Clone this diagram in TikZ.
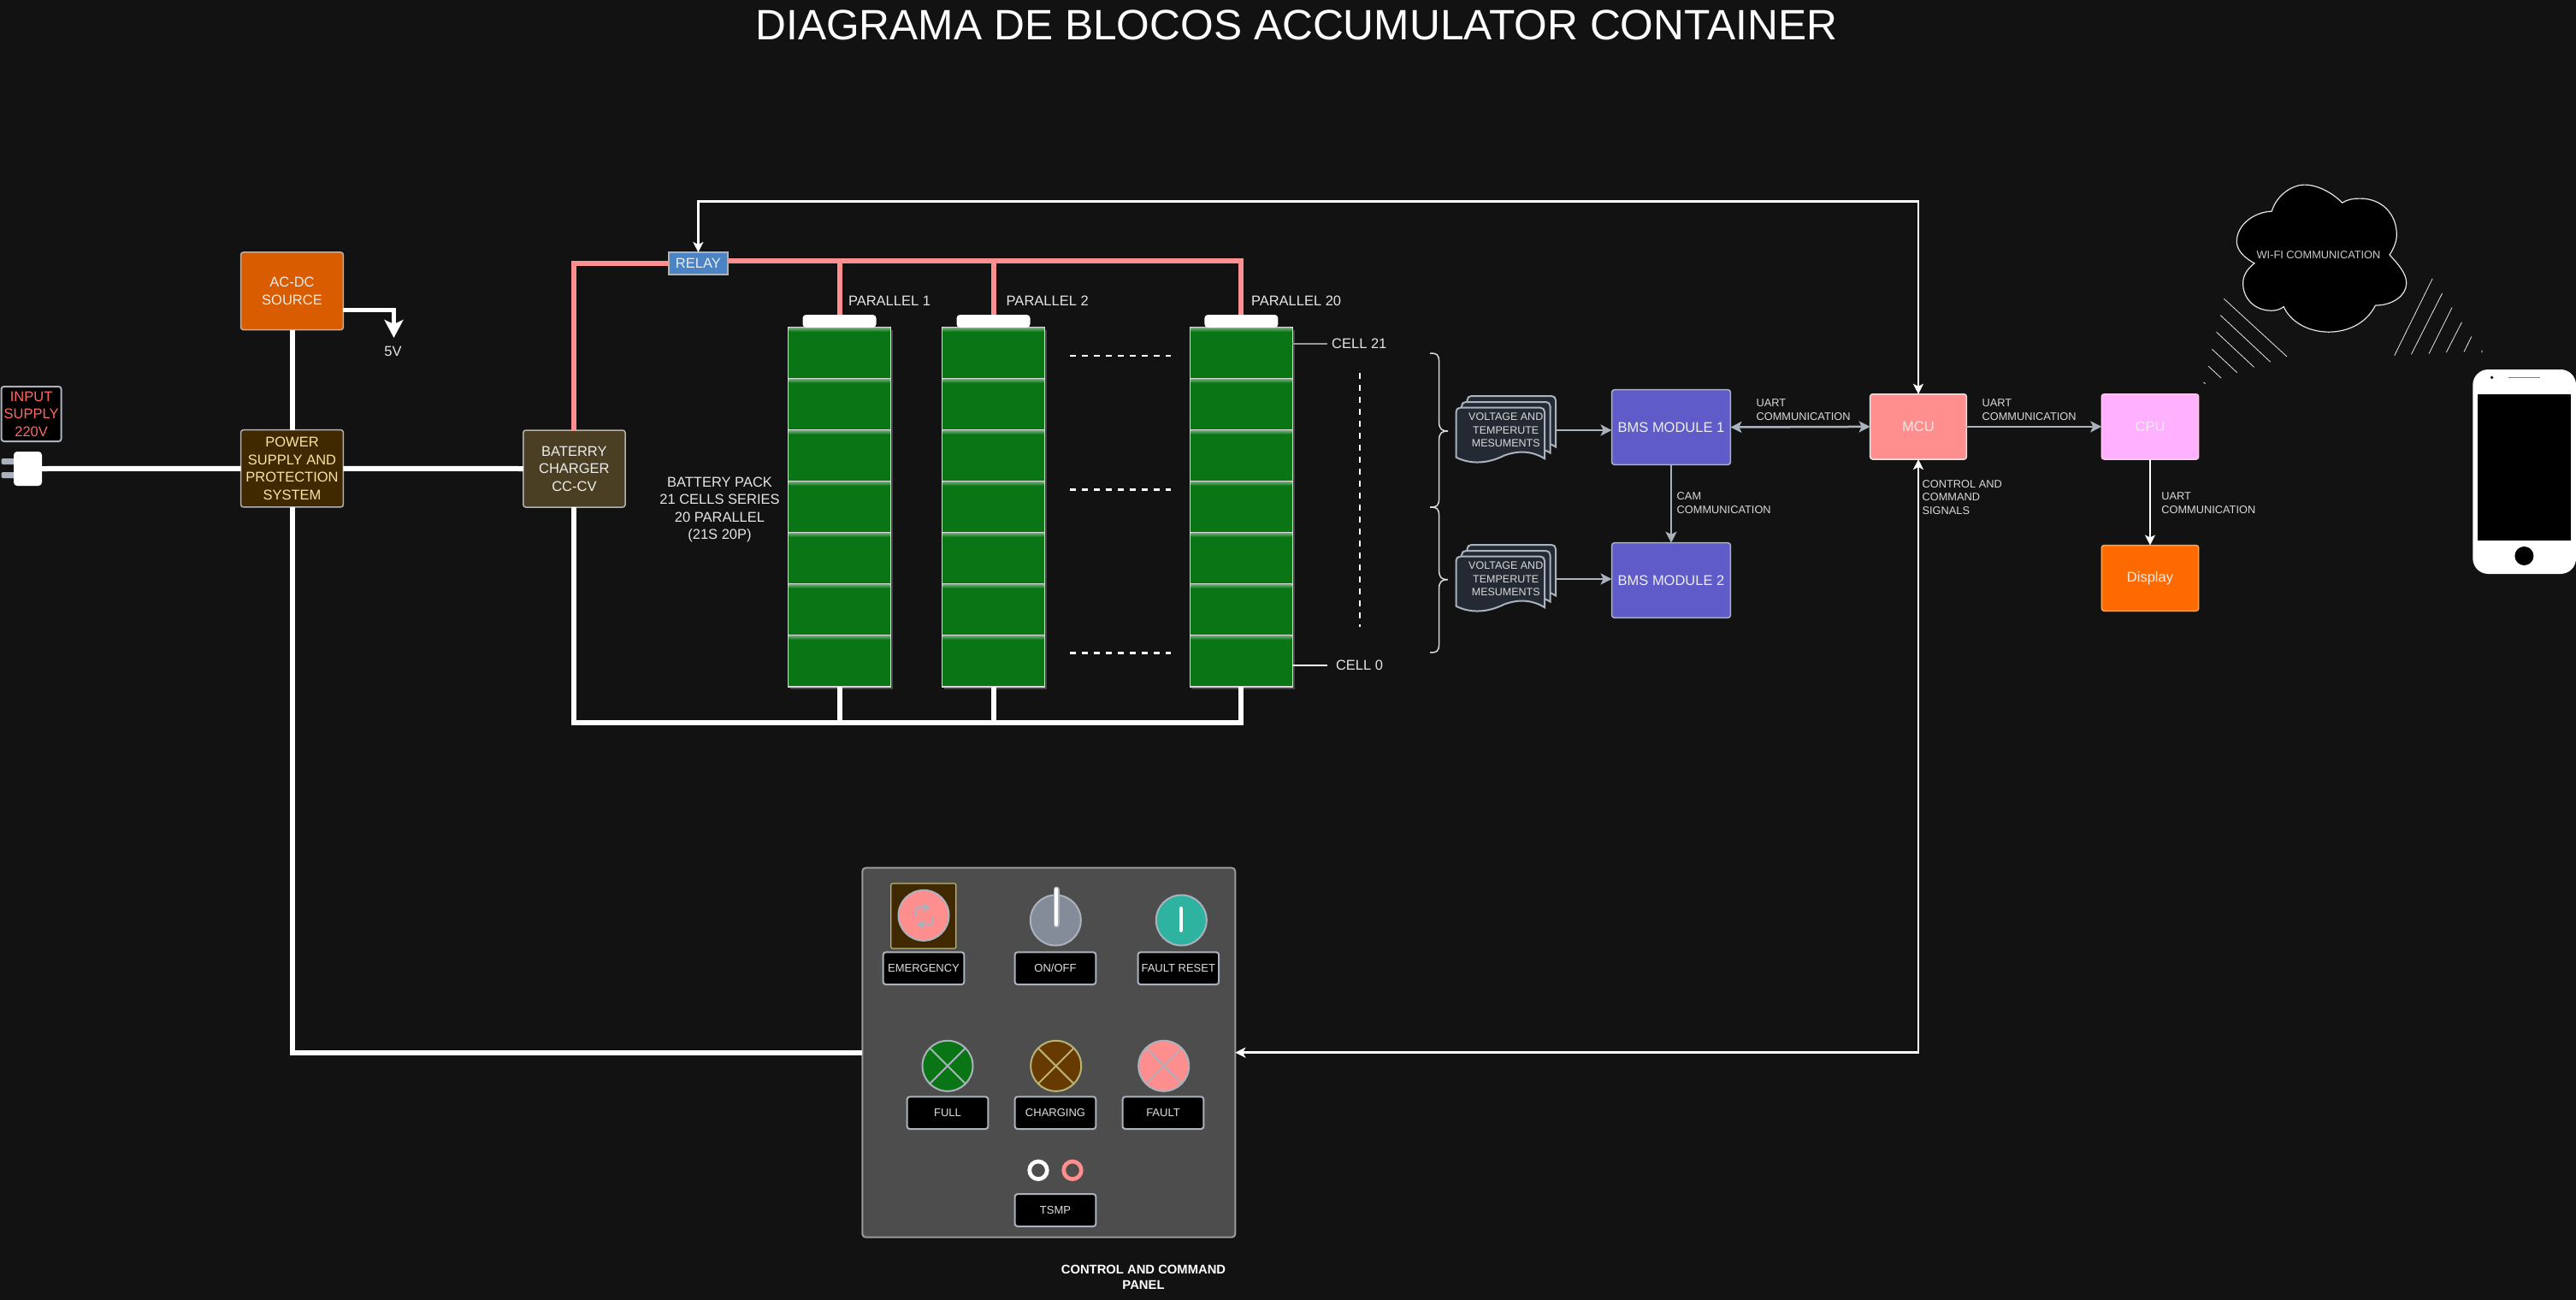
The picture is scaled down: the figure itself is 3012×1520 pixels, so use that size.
\documentclass[tikz,border=0pt]{standalone}
\usepackage{fontspec}
\setmainfont{Liberation Sans}
\usetikzlibrary{arrows.meta}

\definecolor{bgdark}{HTML}{121212}
\definecolor{pinkwire}{HTML}{FF8F8F}
\definecolor{cellgreen}{HTML}{0A7514}
\definecolor{steel}{HTML}{AAB2BD}
\definecolor{bmsblue}{HTML}{5F5BC9}
\definecolor{panelgray}{HTML}{4D4D4D}
\definecolor{acdcfill}{HTML}{D95C00}
\definecolor{psufill}{HTML}{402800}
\definecolor{psutext}{HTML}{F5E6A0}
\definecolor{chargerfill}{HTML}{4A3F22}
\definecolor{relayfill}{HTML}{4A84C4}
\definecolor{cpufill}{HTML}{FFB0FF}
\definecolor{dispfill}{HTML}{FF6A00}
\definecolor{sheetfill}{HTML}{232A33}
\definecolor{knobfill}{HTML}{858C99}
\definecolor{resetfill}{HTML}{2DB39F}
\definecolor{chgfill}{HTML}{663A00}
\definecolor{inputtext}{HTML}{FF6666}

\tikzset{
  box/.style={draw=#1,rounded corners=3pt,line width=1.5pt,inner sep=0pt,outer sep=0pt,
    align=center,text=white!93!black,font=\fontsize{16.5}{20.5}\selectfont},
  box/.default={gray!60},
  wire/.style={draw=white,line width=6pt},
  pinkline/.style={draw=pinkwire,line width=6pt},
  sigline/.style={draw=white,line width=2.5pt,{Stealth[length=12pt,width=12pt,inset=3pt]}-{Stealth[length=12pt,width=12pt,inset=3pt]}},
  sigend/.style={draw=white,line width=2.5pt,-{Stealth[length=12pt,width=12pt,inset=3pt]}},
  greyend/.style={draw=steel,line width=2.5pt,-{Stealth[length=13pt,width=13pt,inset=3pt]}},
  dots/.style={draw=white,line width=2.5pt,dash pattern=on 7pt off 7pt},
  lbl/.style={inner sep=0pt,outer sep=0pt,align=center,text=white!90!black,font=\fontsize{16.5}{20.5}\selectfont},
  small/.style={inner sep=0pt,outer sep=0pt,align=left,anchor=west,text=white!85!black,font=\fontsize{12.8}{16}\selectfont},
  cell/.style={draw=white!85!black,fill=cellgreen,line width=1.2pt,inner sep=0pt,outer sep=0pt,
    minimum width=119.5pt,minimum height=60pt},
  tag/.style={draw=steel,fill=black,line width=2pt,rounded corners=3pt,inner sep=0pt,outer sep=0pt,
    minimum width=94.6pt,minimum height=37.7pt,text=white!88!black,font=\fontsize{13}{16}\selectfont},
  lamp/.style={circle,draw=#1,line width=2pt,inner sep=0pt,outer sep=0pt,minimum size=59pt},
  lamp/.default={steel},
  sheet/.pic={
    \path[draw=steel,fill=sheetfill,line width=2pt]
      (0,5) .. controls (0,2) and (2,0) .. (5,0) -- (98.5,0)
      .. controls (101.5,0) and (103.5,2) .. (103.5,5) -- (103.5,59.5)
      .. controls (88,50) and (72,50) .. (56,56)
      .. controls (38,65) and (18,67) .. (0,58) -- cycle;
  }
}
\newcommand{\curlybr}[3]{%
  \draw[white!85!black,line width=1.5pt] (1672,#1) .. controls (1680,#1) and (1682.6,#1+1) .. (1682.6,#1+11)
    -- (1682.6,#2-11) .. controls (1682.6,#2-2) and (1686,#2) .. (1693,#2)
    .. controls (1686,#2) and (1682.6,#2+2) .. (1682.6,#2+11)
    -- (1682.6,#3-11) .. controls (1682.6,#3-1) and (1680,#3) .. (1672,#3);
}

\begin{document}
\begin{tikzpicture}[x=1pt,y=-1pt]
  \fill[bgdark] (0,0) rectangle (3012,1520);
  \useasboundingbox (0,0) rectangle (3012,1520);

  \node[lbl,font=\fontsize{49.7}{55}\selectfont,text=white] (title) at (1515.7,29)
    {DIAGRAMA DE BLOCOS ACCUMULATOR CONTAINER};

  \node[box,draw=steel,fill=black,text=inputtext,minimum width=70pt,minimum height=64pt,
    line width=2pt] (input) at (36.6,484) {INPUT\\SUPPLY\\220V};
  \fill[steel,rounded corners=2pt] (1.5,536) rectangle (20,543);
  \fill[steel,rounded corners=2pt] (1.5,552) rectangle (20,559);
  \node[fill=white,rounded corners=4pt,inner sep=0pt,outer sep=0pt,minimum width=33pt,
    minimum height=40pt] (plug) at (32.5,548) {};

  \node[box,fill=acdcfill,minimum width=119.8pt,minimum height=90.7pt] (acdc) at (341.5,340.3)
    {AC-DC\\SOURCE};
  \node[box,fill=psufill,text=psutext,minimum width=119.8pt,minimum height=90.3pt]
    (psu) at (341.5,547.8) {POWER\\SUPPLY AND\\PROTECTION\\SYSTEM};
  \node[box,fill=chargerfill,minimum width=119.3pt,minimum height=90pt] (charger) at (671.4,548)
    {BATERRY\\CHARGER\\CC-CV};
  \node[box=steel,fill=relayfill,rounded corners=0pt,minimum width=69pt,minimum height=26pt] (relay)
    at (816.4,308) {RELAY};

  \coordinate (acdcout) at (401.4,362.7);
  \coordinate (vfive) at (460.5,395);
  \node[lbl] (vlabel) at (459.5,411) {5V};
  \draw[wire] (plug.east) -- (psu.west);
  \draw[wire] (psu.east) -- (charger.west);
  \draw[wire] (acdc.south) -- (psu.north);
  \draw[wire,line width=5pt,-{Stealth[length=21pt,width=22pt,inset=5pt]}] (acdcout) -| (vfive);

  \foreach \col/\cx in {1/981.5,2/1161.5,3/1451.4} {
    \fill[gray!45!bgdark] (\cx-58,386) rectangle (\cx+62.5,806);
    \foreach \row in {1,...,7} {
      \node[cell] (cell\col-\row) at (\cx,382.9+60*\row-30) {};
      \shade[top color=white!35!cellgreen,bottom color=cellgreen] (\cx-59,382.9+60*\row-59) rectangle (\cx+59,382.9+60*\row-55);
    }
    \fill[white,rounded corners=4pt] (\cx-43,383) -- (\cx-43,368) -- (\cx+43,368) -- (\cx+43,383) -- cycle;
    \coordinate (cap\col) at (\cx,368);
  }
  \node[lbl,anchor=west] (par1) at (992,352) {PARALLEL 1};
  \node[lbl,anchor=west] (par2) at (1176.7,352) {PARALLEL 2};
  \node[lbl,anchor=west] (par3) at (1463,352) {PARALLEL 20};
  \node[lbl] (pack) at (841.5,596) {BATTERY PACK\\21 CELLS SERIES\\20 PARALLEL\\(21S 20P)};

  \coordinate (relayout) at (851,305);
  \coordinate (busend) at (1451.4,845);
  \draw[pinkline] (charger.north) |- (relay.west);
  \draw[pinkline] (relayout) -| (cap3);
  \draw[pinkline] (cap1 |- relayout) -- (cap1);
  \draw[pinkline] (cap2 |- relayout) -- (cap2);
  \draw[wire] (charger.south) |- (busend) -- (cell3-7.south);
  \draw[wire] (cell1-7.south) -- (cell1-7.south |- busend);
  \draw[wire] (cell2-7.south) -- (cell2-7.south |- busend);

  \foreach \ypos in {415.8,572.3,763.7} {
    \draw[dots] (1251.4,\ypos) -- (1369,\ypos);
  }
  \draw[dots] (1590,436) -- (1590,733);

  \node[lbl] (cell21) at (1589.3,401.7) {CELL 21};
  \node[lbl] (cell0) at (1589.5,778.3) {CELL 0};
  \draw[gray!80!white,line width=2pt,shorten >=5.6pt] (cell21.west -| cell3-1.east) -- (cell21.west);
  \draw[white,line width=2pt,shorten >=10pt] (cell0.west -| cell3-7.east) -- (cell0.west);

  \curlybr{413}{504}{593}
  \curlybr{593}{677.7}{763}

  \foreach \name/\ypos in {docsa/503,docsb/677} {
    \pic at (1715.5,\ypos-40) {sheet};
    \pic at (1709,\ypos-33) {sheet};
    \pic at (1702.5,\ypos-26.3) {sheet};
    \node[lbl,text=white!85!black,minimum width=116.5pt,minimum height=78pt,font=\fontsize{12.5}{15.5}\selectfont]
      (\name) at (1760.75,\ypos) {VOLTAGE AND\\TEMPERUTE\\MESUMENTS};
  }

  \node[box=steel,fill=bmsblue,minimum width=138.8pt,minimum height=87.6pt] (bmsa) at (1954,499.5) {BMS MODULE 1};
  \node[box=steel,fill=bmsblue,minimum width=138.8pt,minimum height=87.6pt] (bmsb) at (1954,678.5) {BMS MODULE 2};
  \node[box=white!90!black,fill=pinkwire,minimum width=112.7pt,minimum height=76.3pt] (mcu) at (2243,498.9) {MCU};
  \node[box=white!80!magenta,fill=cpufill,minimum width=113.4pt,minimum height=76.3pt] (cpu)
    at (2514,498.9) {CPU};
  \node[box=orange!70!white,fill=dispfill,minimum width=113.4pt,minimum height=76.8pt] (display)
    at (2514,675.9) {Display};

  \draw[greyend] (docsa.east) -- (docsa.east -| bmsa.west);
  \draw[greyend] (docsb.east) -- (docsb.east -| bmsb.west);
  \draw[greyend,{Stealth[length=13pt,width=13pt,inset=3pt]}-{Stealth[length=13pt,width=13pt,inset=3pt]}]
    (bmsa.east) -- (mcu.west);
  \draw[greyend] (bmsa.south) -- (bmsb.north);
  \draw[greyend] (mcu.east) -- (cpu.west);
  \draw[sigend] (cpu.south) -- (display.north);

  \node[small] (uarta) at (2053.6,479) {UART\\COMMUNICATION};
  \node[small] (uartb) at (2317.6,479) {UART\\COMMUNICATION};
  \node[small] (uartc) at (2527.3,588) {UART\\COMMUNICATION};
  \node[small] (cam) at (1960.7,588) {CAM\\COMMUNICATION};
  \node[small,font=\fontsize{12.8}{15.5}\selectfont] (ctrl) at (2247.6,581.5) {CONTROL AND\\COMMAND\\SIGNALS};

  \coordinate (relaytop) at (816.4,235.4);
  \draw[sigline] (relay.north) |- (relaytop) -| (mcu.north);

  \draw[fill=black,draw=white!90!black,line width=1.2pt] (2656.2,247.1)
    .. controls (2662,228) and (2680,216) .. (2694.6,216.1)
    .. controls (2710,216) and (2728,226) .. (2738.6,237.1)
    .. controls (2745,233) and (2752,232) .. (2759.3,232.1)
    .. controls (2785,232) and (2802,250) .. (2802.3,273.9)
    .. controls (2802.5,283) and (2798,292) .. (2794,297.9)
    .. controls (2805,310) and (2813.7,320) .. (2813.7,331.1)
    .. controls (2813.7,346) and (2797,357) .. (2777.4,357.1)
    .. controls (2768,376) and (2748,388) .. (2723,388.2)
    .. controls (2698,388) and (2678,376) .. (2670.2,358.6)
    .. controls (2666,362) and (2661,363.2) .. (2655.7,363.2)
    .. controls (2636,363) and (2622.6,349) .. (2622.6,331.1)
    .. controls (2622.6,322) and (2628,314) .. (2636,307.9)
    .. controls (2624,301) and (2615.3,293) .. (2615.3,282.1)
    .. controls (2615.3,264) and (2634,248) .. (2656.2,247.1) -- cycle;
  \node[small,anchor=center,text=white!80!black] (wifi) at (2711,298) {WI-FI COMMUNICATION};

  \foreach \xa/\ya/\xb/\yb in {2600.3/349.3/2673.8/416.8,2596.2/368.6/2654.7/423.2,2591.5/388.2/2635.5/429.3,
      2586.3/408.2/2615.8/435.7,2582.2/428.2/2597.2/442.1,2576.5/447.1/2578.6/448.6,
      2844.2/325.7/2799.7/415.7,2855.6/342.9/2819.4/414.3,2867/359.6/2840/413.6,
      2878.4/376.8/2860.3/412.1,2889.8/393.6/2881/411.4,2902.2/409.6/2901.7/412.1} {
    \draw[white!90!black,line width=0.8pt] (\xa,\ya) -- (\xb,\yb);
  }

  \fill[white,rounded corners=18pt] (2891.3,432) rectangle (3012,671);
  \fill[black] (2897,460.7) rectangle (3005.8,632);
  \fill[black] (2951.4,650) circle (11pt);
  \fill[black] (2913.6,441.4) circle (1.8pt);
  \draw[gray,line width=1.2pt] (2932.8,441.4) -- (2970,441.4);

  \node[draw=gray!80!white,fill=panelgray,rounded corners=4pt,line width=2pt,inner sep=0pt,outer sep=0pt,
    minimum width=436pt,minimum height=432pt] (panel) at (1226.3,1230.7) {};
  \draw[wire] (psu.south) |- (panel.west);
  \draw[sigline] (panel.east) -| (mcu.south);
  \node[lbl,text=white,font=\bfseries\fontsize{14.8}{18.4}\selectfont] (paneltxt) at (1337,1493.5)
    {CONTROL AND COMMAND\\PANEL};

  \node[draw=yellow!40!gray,fill=psufill,rounded corners=2pt,line width=1.2pt,inner sep=0pt,
    minimum size=76pt] (stopbase) at (1079.8,1071) {};
  \node[lamp,fill=pinkwire] (stopbtn) at (1080,1070.3) {};
  \draw[steel,line width=2pt,-{Stealth[length=10pt,width=11pt]},rounded corners=3pt]
    (1071,1072) -- (1071,1061) -- (1088.5,1061);
  \draw[steel,line width=2pt,-{Stealth[length=10pt,width=11pt]},rounded corners=3pt]
    (1090,1072) -- (1090,1081) -- (1071.5,1081);
  \node[lamp,fill=knobfill] (knob) at (1234.3,1076) {};
  \draw[steel,line width=7pt,line cap=round] (1235,1040) -- (1235,1081);
  \draw[white,line width=4pt,line cap=round] (1235,1040) -- (1235,1081);
  \node[lamp,fill=resetfill] (resetbtn) at (1381.3,1076) {};
  \draw[white,line width=4pt,line cap=round] (1380.7,1062) -- (1380.7,1088);

  \node[lamp,fill=cellgreen] (ledfull) at (1108,1246.3) {};
  \node[lamp=yellow!35!gray,fill=chgfill] (ledchg) at (1234.7,1246.3) {};
  \node[lamp,fill=pinkwire] (ledfault) at (1360.7,1246.3) {};
  \foreach \led/\linecol in {ledfull/steel,ledchg/yellow!35!gray,ledfault/steel} {
    \draw[\linecol,line width=2pt] (\led.45) -- (\led.225);
    \draw[\linecol,line width=2pt] (\led.135) -- (\led.315);
  }
  \draw[white,line width=4.7pt] (1214,1368.3) circle (10.3pt);
  \draw[pinkwire,line width=4.7pt] (1254,1368.3) circle (10.3pt);

  \node[tag] (tagstop) at (1080,1132.2) {EMERGENCY};
  \node[tag] (tagonoff) at (1234,1132.2) {ON/OFF};
  \node[tag] (tagreset) at (1377.8,1132.2) {FAULT RESET};
  \node[tag] (tagfull) at (1108,1301.2) {FULL};
  \node[tag] (tagchg) at (1234,1301.2) {CHARGING};
  \node[tag] (tagfault) at (1360,1301.2) {FAULT};
  \node[tag] (tagtsmp) at (1234,1415) {TSMP};
\end{tikzpicture}
\end{document}
